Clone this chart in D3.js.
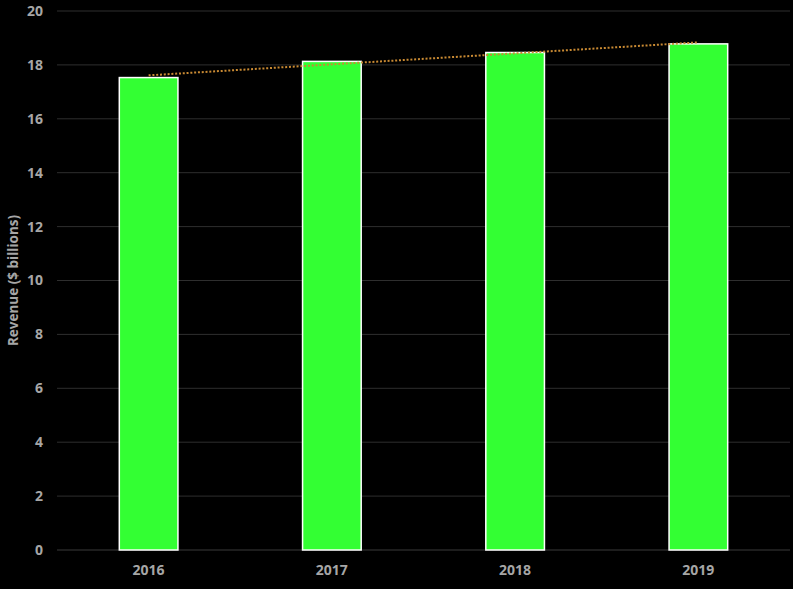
<!DOCTYPE html>
<html><head><meta charset="utf-8">
<script src="https://cdn.jsdelivr.net/npm/d3@7/dist/d3.min.js"></script>
<style>html,body{margin:0;padding:0;background:#000;}svg{display:block;}</style>
</head><body>
<svg id="c" width="793" height="589"></svg>
<script>
const years = ["2016", "2017", "2018", "2019"];
const revenue = [17.53, 18.13, 18.46, 18.78];
const yTicks = [0, 2, 4, 6, 8, 10, 12, 14, 16, 18, 20];

const W = 793, H = 589;
const m = {left: 57, right: 3, top: 11, bottom: 39};
const svg = d3.select("#c");
svg.append("rect").attr("width", W).attr("height", H).attr("fill", "#000");

const x = d3.scaleBand().domain(years).range([m.left, W - m.right]).paddingInner(0.68).paddingOuter(0.34);
const y = d3.scaleLinear().domain([0, 20]).range([H - m.bottom, m.top]);

const font = "'Open Sans', 'DejaVu Sans', sans-serif";
const txt = "#a6a6a6";

// gridlines
svg.append("g").selectAll("line").data(yTicks).join("line")
  .attr("x1", m.left).attr("x2", W - m.right)
  .attr("y1", d => y(d)).attr("y2", d => y(d))
  .attr("stroke", d => d === 0 ? "#3a3a3a" : "#2e2e2e").attr("stroke-width", 1);

// y axis labels
const yAxis = d3.axisLeft(y).tickValues(yTicks).tickSize(0).tickPadding(0);
const gy = svg.append("g").attr("transform", `translate(${m.left - 14},0)`).call(yAxis);
gy.select(".domain").remove();
gy.selectAll("text").attr("fill", txt).style("font-family", font).style("font-size", "14px").style("font-weight", "bold");

// x axis labels
const xAxis = d3.axisBottom(x).tickSize(0).tickPadding(0);
const gx = svg.append("g").attr("transform", `translate(0,${H - m.bottom + 15})`).call(xAxis);
gx.select(".domain").remove();
gx.selectAll("text").attr("fill", txt).style("font-family", font).style("font-size", "14px").style("font-weight", "bold");

// bars
svg.append("g").selectAll("rect").data(revenue).join("rect")
  .attr("x", (d, i) => x(years[i]))
  .attr("width", x.bandwidth())
  .attr("y", d => y(d))
  .attr("height", d => y(0) - y(d))
  .attr("fill", "#33ff33")
  .attr("stroke", "#ffffff").attr("stroke-width", 1.5);

// linear trendline (least squares fit of the data)
const n = revenue.length;
const xs = d3.range(n);
const mx = d3.mean(xs), my = d3.mean(revenue);
const slope = d3.sum(xs, i => (i - mx) * (revenue[i] - my)) / d3.sum(xs, i => (i - mx) ** 2);
const icpt = my - slope * mx;
const trend = xs.map(i => [x(years[i]) + x.bandwidth() / 2, y(icpt + slope * i)]);
svg.append("path").datum(trend)
  .attr("d", d3.line())
  .attr("fill", "none").attr("stroke", "#c98a33").attr("stroke-width", 2)
  .attr("stroke-dasharray", "2,1.8");

// y axis title
svg.append("text")
  .attr("transform", `translate(18,${(y(0) + y(20)) / 2}) rotate(-90)`)
  .attr("text-anchor", "middle")
  .attr("fill", txt).style("font-family", font).style("font-size", "13.5px").style("font-weight", "bold")
  .text("Revenue ($ billions)");
</script>
</body></html>
